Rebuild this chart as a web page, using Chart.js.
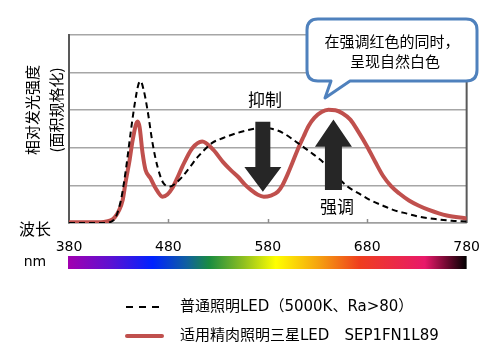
<!DOCTYPE html>
<html><head><meta charset="utf-8">
<script src="https://cdn.jsdelivr.net/npm/chart.js@4"></script>
<style>html,body{margin:0;padding:0;background:#fff;}canvas{display:block;}</style>
</head><body>
<canvas id="c" width="496" height="361"></canvas>
<script>
// ---- data ----
const xTicks = [380, 480, 580, 680, 780];
const dashedNm  = [380,400,415,425,432,437,442,446,450,452,455,459,464,469,475,482,487,494,502,510,524,535,550,565,575,585,595,610,622,633,647,660,672,683,695,706,720,732,750,765,780];
const dashedVal = [0,0,0,0.08,0.58,1.38,2.4,3.15,3.7,3.77,3.55,3.0,2.13,1.5,1.06,0.97,1.05,1.23,1.5,1.77,2.13,2.26,2.4,2.5,2.53,2.5,2.4,2.13,1.9,1.68,1.3,0.97,0.78,0.61,0.47,0.35,0.25,0.17,0.1,0.06,0.04];
const redNm  = [380,400,415,422,426,430,434,437,441,444,449,451,454,457,462,467,474,479,484,489,494,504,514,525,535,543,550,557,563,570,576,583,590,595,600,605,610,616,621,627,634,641,648,655,663,671,680,688,696,704,712,722,732,742,760,780];
const redVal = [0.02,0.02,0.03,0.07,0.15,0.32,0.61,1.1,1.68,2.2,2.7,2.55,1.86,1.41,1.19,0.93,0.70,0.76,0.93,1.2,1.5,1.99,2.17,1.95,1.62,1.4,1.23,1.02,0.88,0.75,0.70,0.73,0.83,1.02,1.3,1.62,1.95,2.3,2.58,2.8,2.95,3.01,3.0,2.92,2.75,2.43,2.03,1.63,1.25,0.98,0.79,0.6,0.46,0.35,0.2,0.12];
const legendLabels = ['普通照明LED（5000K、Ra>80）', '适用精肉照明三星LED　SEP1FN1L89'];
const yTitle = ['相对发光强度', '(面积规格化)'];
const calloutLines = ['在强调红色的同时，', '呈现自然白色'];

const FONT = '"DejaVu Sans", "Noto Sans CJK SC", sans-serif';
const CJK = '"Noto Sans CJK SC", sans-serif';
const RED = '#c0504d';

const toPts = (xs, ys) => xs.map((x, i) => ({x: x, y: ys[i]}));

const decor = {
  id: 'decor',
  beforeDatasetsDraw(chart) {
    const {ctx, chartArea: a, scales: {x}} = chart;
    ctx.save();
    ctx.strokeStyle = '#8c8c8c'; ctx.lineWidth = 1.5;
    [480, 580, 680].forEach(v => {
      const px = Math.round(x.getPixelForValue(v)) + 0.5;
      ctx.beginPath(); ctx.moveTo(px, a.bottom - 4); ctx.lineTo(px, a.bottom); ctx.stroke();
    });
    ctx.strokeStyle = '#595959'; ctx.lineWidth = 2;
    ctx.beginPath(); ctx.moveTo(a.right, a.top); ctx.lineTo(a.right, a.bottom); ctx.stroke();
    ctx.restore();
  },
  afterDraw(chart) {
    const {ctx, chartArea: a, scales: {x, y}} = chart;
    ctx.save();
    ctx.fillStyle = '#262626';
    const arrow = (nm, fromV, baseV, tipV, shaftW, headW) => {
      const cx = x.getPixelForValue(nm);
      const y0 = y.getPixelForValue(fromV), yb = y.getPixelForValue(baseV), yt = y.getPixelForValue(tipV);
      ctx.beginPath();
      ctx.moveTo(cx - shaftW/2, y0); ctx.lineTo(cx + shaftW/2, y0);
      ctx.lineTo(cx + shaftW/2, yb); ctx.lineTo(cx + headW/2, yb);
      ctx.lineTo(cx, yt); ctx.lineTo(cx - headW/2, yb);
      ctx.lineTo(cx - shaftW/2, yb); ctx.closePath(); ctx.fill();
    };
    arrow(575, 2.69, 1.49, 0.83, 15, 37);
    arrow(646, 0.88, 2.03, 2.75, 17, 37);
    ctx.fillStyle = '#000';
    ctx.textAlign = 'center'; ctx.textBaseline = 'middle';
    ctx.font = '17px ' + CJK;
    ctx.fillText('抑制', 265, 100);
    ctx.fillText('强调', 337, 207);

    const L = 307, R = 477, T = 19, B = 81, r = 11;
    ctx.beginPath();
    ctx.moveTo(L + r, T);
    ctx.lineTo(R - r, T); ctx.quadraticCurveTo(R, T, R, T + r);
    ctx.lineTo(R, B - r); ctx.quadraticCurveTo(R, B, R - r, B);
    ctx.lineTo(350, B); ctx.lineTo(325, 98); ctx.lineTo(331, B);
    ctx.lineTo(L + r, B); ctx.quadraticCurveTo(L, B, L, B - r);
    ctx.lineTo(L, T + r); ctx.quadraticCurveTo(L, T, L + r, T);
    ctx.closePath();
    ctx.fillStyle = '#fff'; ctx.fill();
    ctx.strokeStyle = '#4f81bd'; ctx.lineWidth = 3; ctx.lineJoin = 'round'; ctx.stroke();
    ctx.fillStyle = '#000';
    ctx.font = '15px ' + CJK;
    ctx.fillText(calloutLines[0], 392, 41);
    ctx.fillText(calloutLines[1], 395, 61);

    ctx.font = '15px ' + CJK;
    [[yTitle[0], 32], [yTitle[1], 56]].forEach(([t, px]) => {
      ctx.save(); ctx.translate(px, 110); ctx.rotate(-Math.PI/2);
      ctx.fillText(t, 0, 0); ctx.restore();
    });
    ctx.font = '16px ' + CJK;
    ctx.fillText('波长', 35, 229);
    ctx.font = '14px ' + FONT;
    ctx.fillText('nm', 35, 262);

    const g = ctx.createLinearGradient(a.left, 0, a.right, 0);
    [[0,'#a000b0'],[0.1,'#6010d0'],[0.21,'#0022ff'],[0.296,'#1060a0'],[0.353,'#1a8c40'],[0.44,'#90c020'],[0.52,'#ffff00'],[0.63,'#f5a010'],[0.73,'#ef3e1e'],[0.895,'#e8196a'],[0.95,'#700830'],[1,'#000000']]
      .forEach(([o, c]) => g.addColorStop(o, c));
    ctx.fillStyle = g;
    ctx.fillRect(a.left - 1, 256, a.right - a.left + 1, 13);

    ctx.textAlign = 'left';
    ctx.strokeStyle = '#000'; ctx.lineWidth = 2; ctx.setLineDash([7, 6]);
    ctx.beginPath(); ctx.moveTo(126, 307); ctx.lineTo(163, 307); ctx.stroke();
    ctx.setLineDash([]);
    ctx.strokeStyle = RED; ctx.lineWidth = 4; ctx.lineCap = 'round';
    ctx.beginPath(); ctx.moveTo(127, 336); ctx.lineTo(162, 336); ctx.stroke();
    ctx.fillStyle = '#000';
    ctx.font = '15px ' + FONT;
    ctx.fillText(legendLabels[0], 180, 307);
    ctx.fillText(legendLabels[1], 180, 336);
    ctx.restore();
  }
};

new Chart(document.getElementById('c'), {
  type: 'line',
  data: {
    datasets: [
      { label: legendLabels[0], data: toPts(dashedNm, dashedVal), borderColor: '#000', borderWidth: 2,
        borderDash: [6, 4], pointRadius: 0, cubicInterpolationMode: 'monotone', fill: false },
      { label: legendLabels[1], data: toPts(redNm, redVal), borderColor: RED, borderWidth: 4,
        pointRadius: 0, cubicInterpolationMode: 'monotone', fill: false, borderCapStyle: 'round', borderJoinStyle: 'round' }
    ]
  },
  options: {
    responsive: false, animation: false,
    layout: { padding: { top: 35, right: 25, left: 0, bottom: 0 } },
    plugins: { legend: { display: false }, tooltip: { enabled: false } },
    scales: {
      x: {
        type: 'linear', min: 380, max: 780,
        afterBuildTicks: s => { s.ticks = xTicks.map(v => ({value: v})); },
        afterFit: s => { s.height = 138; },
        ticks: { color: '#000', font: { family: FONT, size: 14 }, padding: 16, maxRotation: 0, autoSkip: false },
        grid: { display: false, drawTicks: false },
        border: { display: true, color: '#a0a0a0', width: 1.5 }
      },
      y: {
        min: 0, max: 5,
        afterFit: s => { s.width = 69; },
        ticks: { display: false, stepSize: 1 },
        grid: { color: '#a6a6a6', lineWidth: 1.5, drawTicks: false },
        border: { display: true, color: '#595959', width: 2 }
      }
    }
  },
  plugins: [decor]
});
</script>
</body></html>
